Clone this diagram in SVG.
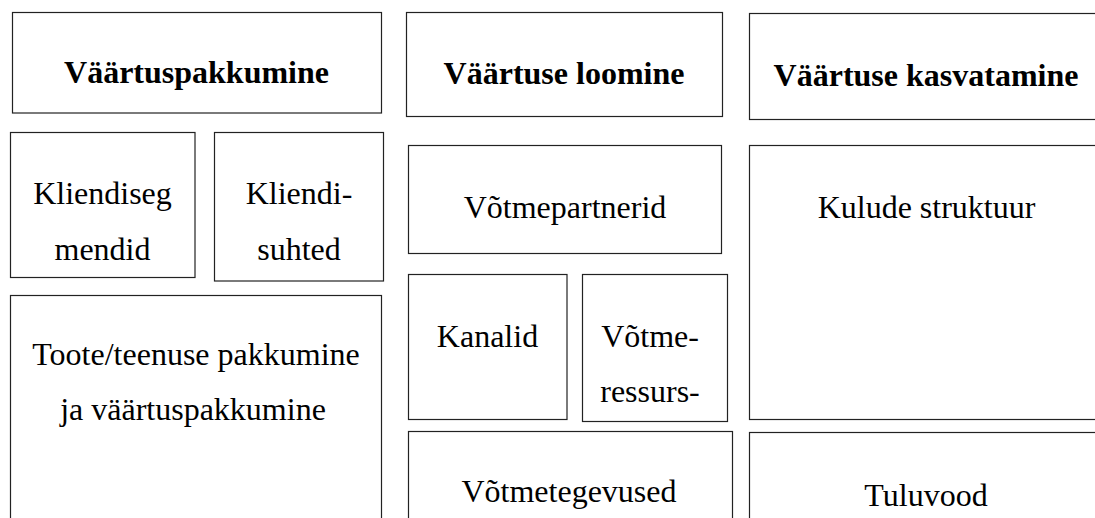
<svg xmlns="http://www.w3.org/2000/svg" width="1095" height="518" viewBox="0 0 1095 518">
<style>
.box{fill:#fff;stroke:#222;stroke-width:1.2}
text{font-family:"Liberation Serif","Times New Roman",serif;font-size:32px;fill:#000;text-anchor:middle}
.h{font-weight:bold}
</style>
<rect width="1095" height="518" fill="#fff"/>
<g id="connectors"></g>
<g id="vaartuspakkumine-head"><rect class="box" x="12.5" y="12.5" width="369" height="100.5"/><text class="h" x="196.5" y="83">Väärtuspakkumine</text></g>
<g id="kliendisegmendid"><rect class="box" x="10.5" y="132.5" width="184.5" height="145"/><text x="102.5" y="204">Kliendiseg</text><text x="102.5" y="260">mendid</text></g>
<g id="kliendisuhted"><rect class="box" x="214.5" y="132.5" width="169" height="148.5"/><text x="299" y="204">Kliendi-</text><text x="299" y="260">suhted</text></g>
<g id="pakkumine"><rect class="box" x="10.5" y="295.5" width="371" height="240"/><text x="196" y="365">Toote/teenuse pakkumine</text><text x="193" y="420">ja väärtuspakkumine</text></g>
<g id="loomine-head"><rect class="box" x="406.5" y="12.5" width="316" height="104"/><text class="h" x="564" y="84">Väärtuse loomine</text></g>
<g id="votmepartnerid"><rect class="box" x="408.5" y="145.5" width="313" height="108"/><text x="565" y="218">Võtmepartnerid</text></g>
<g id="kanalid"><rect class="box" x="408.5" y="274.5" width="158.5" height="145"/><text x="487.5" y="347">Kanalid</text></g>
<g id="votmeressursid"><rect class="box" x="582.5" y="274.5" width="145" height="147"/><text x="650" y="347">Võtme-</text><text x="650" y="401.5">ressurs-</text></g>
<g id="votmetegevused"><rect class="box" x="408.5" y="431.5" width="324" height="100"/><text x="569" y="501.5">Võtmetegevused</text></g>
<g id="kasvatamine-head"><rect class="box" x="749.5" y="13.5" width="400" height="106"/><text class="h" x="926" y="86">Väärtuse kasvatamine</text></g>
<g id="kulude-struktuur"><rect class="box" x="749.5" y="145.5" width="400" height="274"/><text x="926.5" y="218">Kulude struktuur</text></g>
<g id="tuluvood"><rect class="box" x="749.5" y="432.5" width="400" height="100"/><text x="926" y="506">Tuluvood</text></g>
</svg>
